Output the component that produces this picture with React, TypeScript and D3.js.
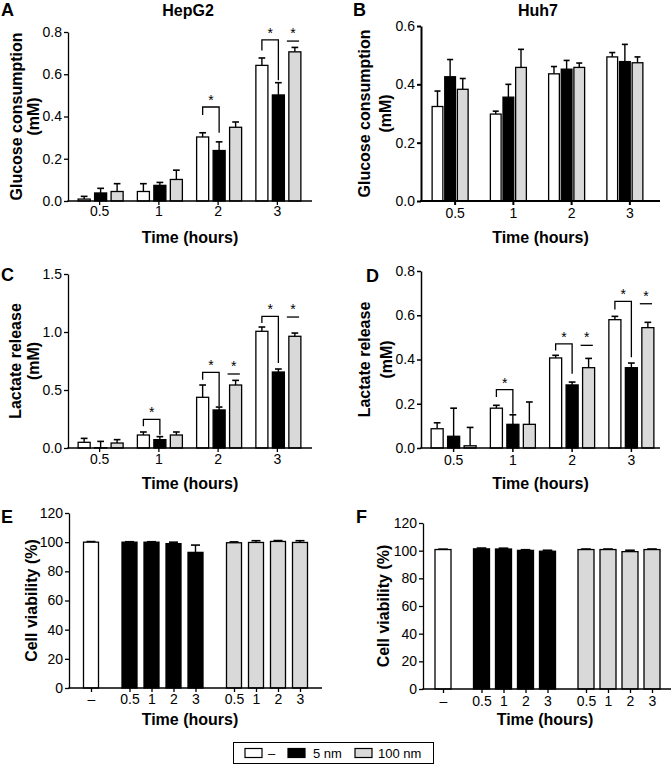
import React, { useEffect, useRef } from 'react';
import * as d3 from 'd3';

const timeLabels = ['0.5', '1', '2', '3'];
const treatments = ['–', '5 nm', '100 nm'];
const fills = ['#ffffff', '#000000', '#d9d9d9'];

// rows: treatment (–, 5 nm, 100 nm), cols: time
const hepGlucose = [
  [0.009, 0.045, 0.303, 0.642],
  [0.038, 0.074, 0.239, 0.502],
  [0.045, 0.102, 0.349, 0.706],
];
const hepGlucoseErr = [
  [0.013, 0.037, 0.02, 0.035],
  [0.022, 0.014, 0.041, 0.058],
  [0.037, 0.044, 0.025, 0.021],
];
const huhGlucose = [
  [0.324, 0.298, 0.436, 0.494],
  [0.426, 0.356, 0.452, 0.478],
  [0.383, 0.458, 0.458, 0.474],
];
const huhGlucoseErr = [
  [0.053, 0.01, 0.025, 0.015],
  [0.059, 0.044, 0.03, 0.059],
  [0.037, 0.062, 0.015, 0.02],
];
const hepLactate = [
  [0.049, 0.112, 0.437, 1.006],
  [0.002, 0.072, 0.328, 0.655],
  [0.043, 0.112, 0.543, 0.963],
];
const hepLactateErr = [
  [0.034, 0.026, 0.106, 0.037],
  [0.055, 0.026, 0.025, 0.026],
  [0.029, 0.026, 0.04, 0.028],
];
const huhLactate = [
  [0.087, 0.18, 0.407, 0.58],
  [0.053, 0.107, 0.285, 0.363],
  [0.01, 0.107, 0.363, 0.544],
];
const huhLactateErr = [
  [0.027, 0.013, 0.012, 0.015],
  [0.127, 0.043, 0.013, 0.021],
  [0.083, 0.101, 0.042, 0.024],
];

// significance: bracket between – and 5 nm, short line over 100 nm
const hepGlucoseSig = [
  { t: 2, top: 0.445, left: 0.407, right: 0.323 },
  { t: 3, top: 0.763, left: 0.713, right: 0.572 },
];
const hepGlucoseLine = [{ t: 3, y: 0.757 }];
const hepLactateSig = [
  { t: 1, top: 0.247, left: 0.187, right: 0.115 },
  { t: 2, top: 0.652, left: 0.589, right: 0.36 },
  { t: 3, top: 1.135, left: 1.078, right: 0.733 },
];
const hepLactateLine = [{ t: 2, y: 0.638 }, { t: 3, y: 1.129 }];
const huhLactateSig = [
  { t: 1, top: 0.264, left: 0.23, right: 0.155 },
  { t: 2, top: 0.471, left: 0.441, right: 0.336 },
  { t: 3, top: 0.663, left: 0.626, right: 0.41 },
];
const huhLactateLine = [{ t: 2, y: 0.464 }, { t: 3, y: 0.652 }];

// cell viability (%)
const viabilityLabels = ['–', '0.5', '1', '2', '3', '0.5', '1', '2', '3'];
const viabilityGroup = [0, 1, 1, 1, 1, 2, 2, 2, 2];
const hepViability = [100, 100, 100, 99, 93, 99.6, 99.8, 100.5, 99.8];
const hepViabilityErr = [0.4, 0.3, 0.3, 1.0, 5.0, 0.6, 1.2, 0.6, 1.2];
const huhViability = [100.8, 101.3, 101.2, 100.2, 99.6, 100.8, 100.8, 99.3, 100.8];
const huhViabilityErr = [0.3, 0.6, 0.6, 0.5, 0.7, 0.4, 0.4, 1.0, 0.4];
const slots = [0, 1.75, 2.75, 3.75, 4.75, 6.5, 7.5, 8.5, 9.5];

const FONT = '"Liberation Sans", Arial, Helvetica, sans-serif';

function yTitle(g, lines, cx, cy, gap) {
  lines.forEach((l, i) => {
    g.append('text')
      .attr('transform', `translate(${cx + (i - (lines.length - 1) / 2) * gap},${cy}) rotate(-90)`)
      .attr('text-anchor', 'middle')
      .attr('dy', '0.36em')
      .attr('font-size', 16)
      .attr('font-weight', 'bold')
      .text(l);
  });
}

function styleAxis(ax, sw) {
  ax.selectAll('path, line').attr('stroke', '#000').attr('stroke-width', sw);
  ax.selectAll('text').attr('font-size', 14).attr('font-family', FONT).attr('fill', '#000');
}

function drawGrouped(root, o) {
  const g = root.append('g');
  const y = d3.scaleLinear().domain([0, o.yMax]).range([o.yBottom, o.yTop]);
  const x = d3.scaleBand().domain(timeLabels).range(o.band);
  const inner = d3.scaleBand().domain([0, 1, 2]).range([0, o.groupWidth]).paddingInner(o.innerPad);
  const bw = inner.bandwidth();
  const left = (s, t) => x(timeLabels[t]) + x.bandwidth() / 2 - o.groupWidth / 2 + o.shift + inner(s);
  const mid = (s, t) => left(s, t) + bw / 2;

  o.values.forEach((row, s) => {
    row.forEach((v, t) => {
      const top = y(v + o.errors[s][t]);
      g.append('line')
        .attr('x1', mid(s, t)).attr('x2', mid(s, t))
        .attr('y1', y(v)).attr('y2', top)
        .attr('stroke', '#000').attr('stroke-width', 1.4);
      g.append('line')
        .attr('x1', mid(s, t) - bw * 0.28).attr('x2', mid(s, t) + bw * 0.28)
        .attr('y1', top).attr('y2', top)
        .attr('stroke', '#000').attr('stroke-width', 1.6);
      g.append('rect')
        .attr('x', left(s, t)).attr('y', y(v))
        .attr('width', bw).attr('height', o.yBottom - y(v))
        .attr('fill', fills[s]).attr('stroke', '#000').attr('stroke-width', 1.3);
    });
  });

  (o.sig || []).forEach(b => {
    const xa = mid(0, b.t), xb = mid(1, b.t);
    g.append('path')
      .attr('d', `M${xa},${y(b.left)}V${y(b.top)}H${xb}V${y(b.right)}`)
      .attr('fill', 'none').attr('stroke', '#000').attr('stroke-width', 1.3);
    g.append('text').attr('x', (xa + xb) / 2).attr('y', y(b.top) - 2)
      .attr('text-anchor', 'middle').attr('font-size', 14).text('*');
  });
  (o.lines || []).forEach(b => {
    const xa = left(2, b.t) - 2, xb = left(2, b.t) + bw * 0.85;
    g.append('line').attr('x1', xa).attr('x2', xb).attr('y1', y(b.y)).attr('y2', y(b.y))
      .attr('stroke', '#000').attr('stroke-width', 1.3);
    g.append('text').attr('x', (xa + xb) / 2).attr('y', y(b.y) - 3)
      .attr('text-anchor', 'middle').attr('font-size', 14).text('*');
  });

  const yax = g.append('g').attr('transform', `translate(${o.xLeft},0)`)
    .call(d3.axisLeft(y).tickValues(d3.range(0, o.yMax + 1e-9, o.yStep))
      .tickFormat(d3.format(o.fmt)).tickSize(4).tickSizeOuter(0).tickPadding(2));
  styleAxis(yax, o.axisWidth);

  const xax = g.append('g').attr('transform', `translate(0,${o.yBottom})`)
    .call(d3.axisBottom(x).tickSize(4).tickSizeOuter(0).tickPadding(o.tickPad));
  xax.select('.domain').remove();
  styleAxis(xax, o.axisWidth);
  g.append('line').attr('x1', o.xLeft - o.axisWidth / 2).attr('x2', o.xRight)
    .attr('y1', o.yBottom).attr('y2', o.yBottom)
    .attr('stroke', '#000').attr('stroke-width', o.axisWidth);

  g.append('text').attr('x', (o.xLeft + o.xRight) / 2).attr('y', o.titleY)
    .attr('text-anchor', 'middle').attr('font-size', 16).attr('font-weight', 'bold')
    .text('Time (hours)');
  yTitle(g, o.yLabel, o.yLabelX, (o.yTop + o.yBottom) / 2, o.yLabelGap);
}

function drawViability(root, o) {
  const g = root.append('g');
  const y = d3.scaleLinear().domain([0, 120]).range([o.yBottom, o.yTop]);
  const x = d3.scaleLinear().domain([0, 9.5]).range(o.range);
  const bw = o.barWidth;

  o.values.forEach((v, i) => {
    const cx = x(slots[i]);
    const top = y(v + o.errors[i]);
    g.append('line').attr('x1', cx).attr('x2', cx).attr('y1', y(v)).attr('y2', top)
      .attr('stroke', '#000').attr('stroke-width', 1.4);
    g.append('line').attr('x1', cx - bw * 0.3).attr('x2', cx + bw * 0.3).attr('y1', top).attr('y2', top)
      .attr('stroke', '#000').attr('stroke-width', 1.6);
    g.append('rect').attr('x', cx - bw / 2).attr('y', y(v))
      .attr('width', bw).attr('height', o.yBottom - y(v))
      .attr('fill', fills[viabilityGroup[i]]).attr('stroke', '#000').attr('stroke-width', 1.3);
  });

  const yax = g.append('g').attr('transform', `translate(${o.xLeft},0)`)
    .call(d3.axisLeft(y).tickValues(d3.range(0, 121, 20)).tickSize(4).tickSizeOuter(0).tickPadding(2));
  styleAxis(yax, 1.3);

  const xax = g.append('g').attr('transform', `translate(0,${o.yBottom})`)
    .call(d3.axisBottom(x).tickValues(slots).tickFormat((d, i) => viabilityLabels[i])
      .tickSize(4).tickSizeOuter(0).tickPadding(o.tickPad));
  xax.select('.domain').remove();
  styleAxis(xax, 1.3);
  g.append('line').attr('x1', o.xLeft - 0.65).attr('x2', o.xRight)
    .attr('y1', o.yBottom).attr('y2', o.yBottom).attr('stroke', '#000').attr('stroke-width', 1.3);

  g.append('text').attr('x', o.titleX).attr('y', o.titleY)
    .attr('text-anchor', 'middle').attr('font-size', 16).attr('font-weight', 'bold')
    .text('Time (hours)');
  yTitle(g, ['Cell viability (%)'], o.yLabelX, (o.yTop + o.yBottom) / 2, 0);
}

const App = () => {
  const ref = useRef(null);

  useEffect(() => {
    const svg = d3.select(ref.current);
    svg.selectAll('*').remove();
    svg.attr('font-family', FONT);

    const letter = (t, x, yy) => svg.append('text').attr('x', x).attr('y', yy)
      .attr('font-size', 18).attr('font-weight', 'bold').text(t);
    letter('A', 1, 16); letter('B', 353, 16); letter('C', 1, 281);
    letter('D', 366, 282); letter('E', 1, 523); letter('F', 356, 523);

    svg.append('text').attr('x', 188).attr('y', 16).attr('text-anchor', 'middle')
      .attr('font-size', 16).attr('font-weight', 'bold').text('HepG2');
    svg.append('text').attr('x', 538).attr('y', 16).attr('text-anchor', 'middle')
      .attr('font-size', 16).attr('font-weight', 'bold').text('Huh7');

    drawGrouped(svg, {
      values: hepGlucose, errors: hepGlucoseErr, sig: hepGlucoseSig, lines: hepGlucoseLine,
      yMax: 0.8, yStep: 0.2, fmt: '.1f', yTop: 32, yBottom: 201,
      xLeft: 68, xRight: 312, band: [70, 307], groupWidth: 45, innerPad: 0.27, shift: 1,
      axisWidth: 1.3, tickPad: 1, titleY: 243,
      yLabel: ['Glucose consumption', '(mM)'], yLabelX: 25, yLabelGap: 17,
    });
    drawGrouped(svg, {
      values: huhGlucose, errors: huhGlucoseErr,
      yMax: 0.6, yStep: 0.2, fmt: '.1f', yTop: 26, yBottom: 201,
      xLeft: 421, xRight: 660, band: [426, 659], groupWidth: 36, innerPad: 0.15, shift: -5,
      axisWidth: 2, tickPad: 3, titleY: 243,
      yLabel: ['Glucose consumption', '(mM)'], yLabelX: 375, yLabelGap: 21,
    });
    drawGrouped(svg, {
      values: hepLactate, errors: hepLactateErr, sig: hepLactateSig, lines: hepLactateLine,
      yMax: 1.5, yStep: 0.5, fmt: '.1f', yTop: 274, yBottom: 448,
      xLeft: 68, xRight: 312, band: [70, 307], groupWidth: 45, innerPad: 0.27, shift: 1,
      axisWidth: 1.3, tickPad: 2, titleY: 489,
      yLabel: ['Lactate release', '(mM)'], yLabelX: 24, yLabelGap: 18,
    });
    drawGrouped(svg, {
      values: huhLactate, errors: huhLactateErr, sig: huhLactateSig, lines: huhLactateLine,
      yMax: 0.8, yStep: 0.2, fmt: '.1f', yTop: 271, yBottom: 448,
      xLeft: 421, xRight: 660, band: [424, 661], groupWidth: 45, innerPad: 0.27, shift: 0,
      axisWidth: 1.5, tickPad: 3, titleY: 489,
      yLabel: ['Lactate release', '(mM)'], yLabelX: 375, yLabelGap: 22,
    });
    drawViability(svg, {
      values: hepViability, errors: hepViabilityErr,
      yTop: 513, yBottom: 688, xLeft: 69, xRight: 322, range: [91, 300], barWidth: 15,
      tickPad: 2, titleX: 190, titleY: 725, yLabelX: 31,
    });
    drawViability(svg, {
      values: huhViability, errors: huhViabilityErr,
      yTop: 523, yBottom: 689, xLeft: 423, xRight: 671, range: [443, 652], barWidth: 16,
      tickPad: 3, titleX: 545, titleY: 725, yLabelX: 383,
    });

    // legend
    const lg = svg.append('g');
    lg.append('rect').attr('x', 233.5).attr('y', 742.5).attr('width', 200).attr('height', 21)
      .attr('fill', '#fff').attr('stroke', '#000').attr('stroke-width', 1);
    const items = [
      { sx: 245, tx: 268 },
      { sx: 288, tx: 313 },
      { sx: 355, tx: 378 },
    ];
    treatments.forEach((name, i) => {
      lg.append('rect').attr('x', items[i].sx).attr('y', 748.5).attr('width', 17).attr('height', 9)
        .attr('fill', fills[i]).attr('stroke', '#000').attr('stroke-width', 1.2);
      lg.append('text').attr('x', items[i].tx).attr('y', 758).attr('font-size', 13).text(name);
    });
  }, []);

  return (
    <svg
      ref={ref}
      width={671}
      height={771}
      style={{ position: 'absolute', left: 0, top: 0, background: '#fff' }}
    />
  );
};

export default App;
